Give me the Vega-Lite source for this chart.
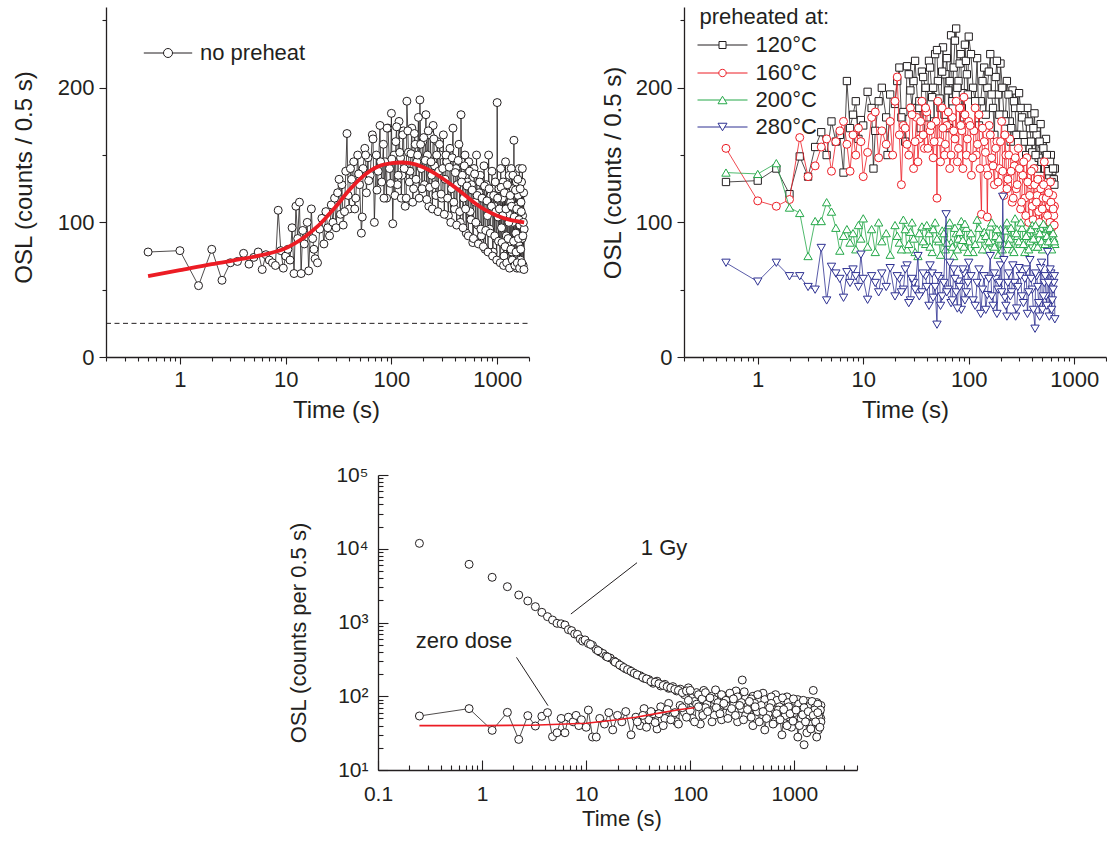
{
  "$schema": "https://vega.github.io/schema/vega-lite/v6.json",
  "padding": {"left": 12, "top": 7, "right": 0, "bottom": 5},
  "config": {
    "view": {"stroke": null},
    "font": "Liberation Sans",
    "axis": {"domainColor": "#231f20", "domainWidth": 1.3, "tickColor": "#231f20", "tickWidth": 1.1, "labelColor": "#231f20", "titleColor": "#231f20", "titleFontWeight": "normal", "grid": false, "labelFlush": false, "labelOverlap": false, "labelBound": false, "labelFont": "Liberation Sans", "titleFont": "Liberation Sans"},
    "legend": {"labelFont": "Liberation Sans", "titleFont": "Liberation Sans", "labelColor": "#231f20", "titleColor": "#231f20", "titleFontWeight": "normal", "padding": 0, "labelFontSize": 22, "symbolSize": 64, "symbolStrokeWidth": 1, "symbolFillColor": "white", "orient": "none"},
    "point": {"opacity": 1}
  },
  "datasets": {
    "A": [{"t":0.5,"y":78},{"t":1,"y":79},{"t":1.5,"y":53},{"t":2,"y":80},{"t":2.5,"y":57},{"t":3,"y":70},{"t":3.5,"y":71},{"t":4,"y":77},{"t":4.5,"y":69},{"t":5,"y":74},{"t":5.5,"y":78},{"t":6,"y":65},{"t":6.5,"y":76},{"t":7,"y":72},{"t":7.5,"y":70},{"t":8,"y":68},{"t":8.5,"y":109},{"t":9,"y":79},{"t":9.5,"y":66},{"t":10,"y":75},{"t":10.5,"y":80},{"t":11,"y":72},{"t":11.5,"y":96},{"t":12,"y":62},{"t":12.5,"y":112},{"t":13,"y":88},{"t":13.5,"y":115},{"t":14,"y":62},{"t":14.5,"y":94},{"t":15,"y":84},{"t":16,"y":100},{"t":16.5,"y":64},{"t":17.5,"y":110},{"t":18,"y":88},{"t":18.5,"y":80},{"t":19,"y":73},{"t":20,"y":70},{"t":21,"y":95},{"t":22,"y":103},{"t":23,"y":84},{"t":24,"y":108},{"t":25,"y":96},{"t":26,"y":90},{"t":27,"y":113},{"t":28,"y":100},{"t":29,"y":118},{"t":30,"y":96},{"t":31,"y":122},{"t":33,"y":106},{"t":34,"y":128},{"t":35,"y":98},{"t":37,"y":138},{"t":38,"y":166},{"t":39,"y":120},{"t":40,"y":110},{"t":42,"y":132},{"t":44,"y":145},{"t":46,"y":118},{"t":48,"y":150},{"t":50,"y":128},{"t":52,"y":92},{"t":54,"y":140},{"t":56,"y":155},{"t":58,"y":122},{"t":60,"y":148},{"t":63,"y":135},{"t":66,"y":165},{"t":69,"y":100},{"t":72,"y":150},{"t":75,"y":138},{"t":78,"y":172},{"t":81,"y":130},{"t":84,"y":158},{"t":87,"y":145},{"t":90,"y":118},{"t":93,"y":170},{"t":96,"y":140},{"t":100,"y":181},{"t":103,"y":99},{"t":106,"y":150},{"t":110,"y":160},{"t":114,"y":128},{"t":118,"y":175},{"t":122,"y":148},{"t":126,"y":135},{"t":130,"y":168},{"t":135,"y":112},{"t":140,"y":190},{"t":145,"y":152},{"t":150,"y":138},{"t":156,"y":170},{"t":162,"y":125},{"t":168,"y":158},{"t":174,"y":145},{"t":180,"y":178},{"t":186,"y":191},{"t":192,"y":140},{"t":198,"y":160},{"t":205,"y":128},{"t":212,"y":180},{"t":219,"y":150},{"t":226,"y":112},{"t":233,"y":165},{"t":240,"y":135},{"t":248,"y":172},{"t":256,"y":142},{"t":264,"y":120},{"t":272,"y":160},{"t":280,"y":138},{"t":290,"y":150},{"t":300,"y":118},{"t":310,"y":165},{"t":322,"y":132},{"t":334,"y":145},{"t":346,"y":105},{"t":358,"y":155},{"t":370,"y":125},{"t":382,"y":170},{"t":395,"y":110},{"t":408,"y":140},{"t":420,"y":128},{"t":435,"y":158},{"t":448,"y":100},{"t":455,"y":180},{"t":468,"y":135},{"t":482,"y":118},{"t":496,"y":150},{"t":510,"y":92},{"t":525,"y":130},{"t":540,"y":145},{"t":556,"y":108},{"t":572,"y":128},{"t":588,"y":85},{"t":604,"y":140},{"t":620,"y":115},{"t":638,"y":150},{"t":656,"y":98},{"t":674,"y":122},{"t":692,"y":135},{"t":710,"y":90},{"t":730,"y":118},{"t":750,"y":142},{"t":770,"y":80},{"t":790,"y":128},{"t":810,"y":105},{"t":830,"y":150},{"t":850,"y":95},{"t":872,"y":120},{"t":894,"y":138},{"t":916,"y":78},{"t":938,"y":112},{"t":960,"y":130},{"t":982,"y":88},{"t":1000,"y":189},{"t":1020,"y":104},{"t":1040,"y":125},{"t":1060,"y":72},{"t":1080,"y":140},{"t":1100,"y":96},{"t":1120,"y":118},{"t":1140,"y":130},{"t":1160,"y":75},{"t":1180,"y":110},{"t":1200,"y":145},{"t":1220,"y":90},{"t":1240,"y":122},{"t":1260,"y":68},{"t":1280,"y":106},{"t":1300,"y":135},{"t":1320,"y":84},{"t":1340,"y":115},{"t":1360,"y":140},{"t":1380,"y":78},{"t":1400,"y":100},{"t":1420,"y":125},{"t":1440,"y":161},{"t":1460,"y":70},{"t":1480,"y":112},{"t":1500,"y":92},{"t":1520,"y":130},{"t":1540,"y":66},{"t":1560,"y":108},{"t":1580,"y":120},{"t":1600,"y":85},{"t":1620,"y":140},{"t":1640,"y":98},{"t":1660,"y":72},{"t":1680,"y":115},{"t":1700,"y":130},{"t":1720,"y":88},{"t":1740,"y":105},{"t":1760,"y":68},{"t":1780,"y":122},{"t":1800,"y":95},
      {"t":32,"y":132},{"t":36,"y":108},{"t":41,"y":140},{"t":45,"y":110},{"t":49,"y":136},{"t":53,"y":104},{"t":57,"y":150},{"t":61,"y":131},{"t":67,"y":162},{"t":73,"y":124},{"t":79,"y":145},{"t":85,"y":118},{"t":91,"y":170},{"t":98,"y":129},{"t":101,"y":147},{"t":108,"y":120},{"t":112,"y":171},{"t":116,"y":135},{"t":120,"y":152},{"t":124,"y":118},{"t":128,"y":165},{"t":132,"y":140},{"t":138,"y":118},{"t":143,"y":168},{"t":148,"y":130},{"t":153,"y":151},{"t":159,"y":115},{"t":165,"y":166},{"t":171,"y":132},{"t":177,"y":150},{"t":183,"y":118},{"t":189,"y":158},{"t":195,"y":125},{"t":202,"y":163},{"t":209,"y":146},{"t":216,"y":117},{"t":223,"y":168},{"t":230,"y":126},{"t":237,"y":145},{"t":244,"y":110},{"t":252,"y":162},{"t":260,"y":128},{"t":268,"y":150},{"t":276,"y":108},{"t":285,"y":158},{"t":295,"y":121},{"t":305,"y":140},{"t":316,"y":106},{"t":328,"y":150},{"t":340,"y":118},{"t":352,"y":141},{"t":364,"y":100},{"t":376,"y":148},{"t":389,"y":115},{"t":402,"y":137},{"t":414,"y":98},{"t":428,"y":146},{"t":442,"y":108},{"t":461,"y":130},{"t":475,"y":96},{"t":489,"y":142},{"t":503,"y":110},{"t":518,"y":127},{"t":533,"y":90},{"t":548,"y":138},{"t":564,"y":102},{"t":580,"y":124},{"t":596,"y":88},{"t":612,"y":136},{"t":629,"y":100},{"t":647,"y":120},{"t":665,"y":84},{"t":683,"y":130},{"t":701,"y":95},{"t":720,"y":118},{"t":740,"y":82},{"t":760,"y":127},{"t":780,"y":94},{"t":800,"y":116},{"t":820,"y":78},{"t":840,"y":125},{"t":861,"y":92},{"t":883,"y":112},{"t":905,"y":75},{"t":927,"y":120},{"t":949,"y":90},{"t":971,"y":108},{"t":991,"y":72},{"t":1010,"y":118},{"t":1030,"y":86},{"t":1050,"y":110},{"t":1070,"y":70},{"t":1090,"y":126},{"t":1110,"y":85},{"t":1130,"y":105},{"t":1150,"y":68},{"t":1170,"y":122},{"t":1190,"y":82},{"t":1210,"y":110},{"t":1230,"y":70},{"t":1250,"y":128},{"t":1270,"y":88},{"t":1290,"y":100},{"t":1310,"y":66},{"t":1330,"y":120},{"t":1350,"y":80},{"t":1370,"y":112},{"t":1390,"y":72},{"t":1410,"y":135},{"t":1430,"y":86},{"t":1450,"y":104},{"t":1470,"y":68},{"t":1490,"y":124},{"t":1510,"y":78},{"t":1530,"y":110},{"t":1550,"y":70},{"t":1570,"y":132},{"t":1590,"y":88},{"t":1610,"y":102},{"t":1630,"y":66},{"t":1650,"y":125},{"t":1670,"y":80},{"t":1690,"y":108},{"t":1710,"y":70},{"t":1730,"y":140},{"t":1750,"y":90},{"t":1770,"y":100},{"t":1790,"y":65}],
    "Afit": [{"t":0.5,"y":60},{"t":1,"y":64.5},{"t":2,"y":69},{"t":4,"y":73},{"t":7,"y":77},{"t":9.5,"y":80},{"t":12,"y":84},{"t":15,"y":89},{"t":20,"y":97},{"t":25,"y":105},{"t":30,"y":112},{"t":40,"y":124},{"t":50,"y":132},{"t":65,"y":139},{"t":80,"y":142.5},{"t":100,"y":144},{"t":125,"y":144.5},{"t":150,"y":144},{"t":200,"y":141},{"t":250,"y":137},{"t":300,"y":133},{"t":400,"y":126},{"t":500,"y":120},{"t":600,"y":115},{"t":800,"y":108.5},{"t":1000,"y":105},{"t":1300,"y":102},{"t":1800,"y":100}],
    "Abg": [{"t":0.2,"y":25},{"t":2000,"y":25}],
    "B120": [{"t":0.5,"y":130},{"t":1,"y":131},{"t":1.5,"y":140},{"t":2,"y":121},{"t":2.5,"y":149},{"t":3,"y":134},{"t":3.5,"y":156},{"t":4,"y":167},{"t":4.5,"y":150},{"t":5,"y":175},{"t":5.5,"y":160},{"t":6,"y":165},{"t":6.5,"y":137},{"t":7,"y":205},{"t":7.5,"y":170},{"t":8,"y":180},{"t":8.5,"y":190},{"t":9,"y":162},{"t":9.5,"y":176},{"t":10,"y":172},{"t":11,"y":197},{"t":12,"y":185},{"t":12.5,"y":140},{"t":13,"y":168},{"t":14,"y":190},{"t":15,"y":200},{"t":16.5,"y":178},{"t":17,"y":150},{"t":18,"y":195},{"t":20,"y":188},{"t":22,"y":215},{"t":24,"y":182},{"t":25,"y":160},{"t":26,"y":216},{"t":28,"y":198},{"t":30,"y":205},{"t":33,"y":185},{"t":35,"y":170},{"t":36,"y":212},{"t":39,"y":200},{"t":42,"y":220},{"t":45,"y":193},{"t":47,"y":175},{"t":48,"y":225},{"t":51,"y":205},{"t":54,"y":185},{"t":57,"y":230},{"t":60,"y":210},{"t":64,"y":198},{"t":65,"y":170},{"t":68,"y":239},{"t":72,"y":215},{"t":76,"y":244},{"t":80,"y":205},{"t":84,"y":225},{"t":88,"y":196},{"t":90,"y":178},{"t":92,"y":232},{"t":96,"y":210},{"t":100,"y":238},{"t":110,"y":200},{"t":120,"y":222},{"t":125,"y":172},{"t":130,"y":190},{"t":140,"y":215},{"t":150,"y":200},{"t":160,"y":225},{"t":170,"y":185},{"t":175,"y":165},{"t":180,"y":208},{"t":190,"y":195},{"t":200,"y":218},{"t":215,"y":180},{"t":230,"y":205},{"t":245,"y":175},{"t":250,"y":160},{"t":260,"y":198},{"t":275,"y":185},{"t":290,"y":165},{"t":300,"y":196},{"t":320,"y":178},{"t":340,"y":160},{"t":350,"y":150},{"t":360,"y":185},{"t":380,"y":170},{"t":400,"y":152},{"t":420,"y":181},{"t":440,"y":165},{"t":450,"y":140},{"t":460,"y":148},{"t":480,"y":173},{"t":500,"y":158},{"t":520,"y":140},{"t":540,"y":162},{"t":560,"y":145},{"t":580,"y":135},{"t":600,"y":150},{"t":620,"y":138},{"t":640,"y":132},{"t":655,"y":140},
      {"t":21,"y":205},{"t":23,"y":178},{"t":27,"y":210},{"t":29,"y":185},{"t":31,"y":220},{"t":34,"y":190},{"t":37,"y":208},{"t":40,"y":178},{"t":43,"y":215},{"t":46,"y":200},{"t":50,"y":228},{"t":53,"y":192},{"t":56,"y":212},{"t":59,"y":180},{"t":62,"y":222},{"t":66,"y":205},{"t":70,"y":190},{"t":74,"y":235},{"t":78,"y":200},{"t":82,"y":218},{"t":86,"y":185},{"t":94,"y":220},{"t":98,"y":195},{"t":105,"y":225},{"t":115,"y":190},{"t":135,"y":205},{"t":145,"y":180},{"t":155,"y":212},{"t":165,"y":195},{"t":185,"y":220},{"t":195,"y":180},{"t":208,"y":200},{"t":222,"y":175},{"t":238,"y":195},{"t":253,"y":170},{"t":268,"y":190},{"t":283,"y":165},{"t":310,"y":185},{"t":330,"y":165},{"t":370,"y":175},{"t":390,"y":160},{"t":410,"y":170},{"t":430,"y":150},{"t":470,"y":160},{"t":490,"y":145},{"t":510,"y":155},{"t":530,"y":140},{"t":550,"y":150},{"t":570,"y":138},{"t":590,"y":145},{"t":610,"y":130},{"t":630,"y":140},{"t":648,"y":128}],
    "B160": [{"t":0.5,"y":155},{"t":1,"y":116},{"t":1.5,"y":112},{"t":2,"y":117},{"t":2.5,"y":163},{"t":3,"y":134},{"t":3.5,"y":142},{"t":4,"y":156},{"t":4.5,"y":162},{"t":5,"y":138},{"t":5.5,"y":160},{"t":6,"y":168},{"t":6.5,"y":175},{"t":7,"y":158},{"t":7.5,"y":138},{"t":8,"y":165},{"t":8.5,"y":150},{"t":9,"y":170},{"t":9.5,"y":160},{"t":10,"y":134},{"t":11,"y":152},{"t":12,"y":178},{"t":13,"y":182},{"t":14,"y":148},{"t":15,"y":168},{"t":16.5,"y":158},{"t":18,"y":175},{"t":19,"y":150},{"t":20,"y":190},{"t":21,"y":208},{"t":22,"y":165},{"t":23,"y":128},{"t":24,"y":172},{"t":26,"y":158},{"t":28,"y":185},{"t":30,"y":140},{"t":32,"y":178},{"t":34,"y":162},{"t":36,"y":190},{"t":38,"y":155},{"t":40,"y":182},{"t":43,"y":168},{"t":46,"y":148},{"t":49,"y":175},{"t":50,"y":118},{"t":53,"y":160},{"t":56,"y":185},{"t":59,"y":150},{"t":62,"y":172},{"t":66,"y":140},{"t":70,"y":178},{"t":74,"y":162},{"t":78,"y":145},{"t":82,"y":185},{"t":86,"y":168},{"t":90,"y":193},{"t":95,"y":150},{"t":100,"y":175},{"t":106,"y":135},{"t":112,"y":168},{"t":118,"y":150},{"t":125,"y":180},{"t":132,"y":106},{"t":140,"y":160},{"t":148,"y":140},{"t":150,"y":104},{"t":156,"y":172},{"t":165,"y":148},{"t":175,"y":128},{"t":185,"y":160},{"t":195,"y":140},{"t":205,"y":175},{"t":215,"y":120},{"t":225,"y":150},{"t":235,"y":132},{"t":245,"y":162},{"t":258,"y":115},{"t":270,"y":142},{"t":282,"y":125},{"t":295,"y":155},{"t":310,"y":110},{"t":325,"y":135},{"t":340,"y":118},{"t":355,"y":148},{"t":370,"y":100},{"t":385,"y":128},{"t":400,"y":112},{"t":415,"y":140},{"t":430,"y":95},{"t":445,"y":120},{"t":460,"y":108},{"t":475,"y":132},{"t":490,"y":98},{"t":505,"y":118},{"t":520,"y":145},{"t":535,"y":102},{"t":550,"y":125},{"t":565,"y":92},{"t":580,"y":112},{"t":595,"y":130},{"t":610,"y":96},{"t":625,"y":120},{"t":640,"y":105},{"t":650,"y":112},
      {"t":25,"y":170},{"t":27,"y":150},{"t":29,"y":180},{"t":31,"y":160},{"t":33,"y":145},{"t":35,"y":175},{"t":37,"y":165},{"t":39,"y":185},{"t":41,"y":155},{"t":44,"y":172},{"t":47,"y":160},{"t":51,"y":190},{"t":54,"y":145},{"t":57,"y":170},{"t":60,"y":158},{"t":64,"y":182},{"t":68,"y":150},{"t":72,"y":168},{"t":76,"y":190},{"t":80,"y":155},{"t":84,"y":172},{"t":88,"y":140},{"t":92,"y":180},{"t":97,"y":162},{"t":103,"y":172},{"t":109,"y":148},{"t":115,"y":185},{"t":121,"y":158},{"t":128,"y":140},{"t":135,"y":170},{"t":144,"y":152},{"t":152,"y":135},{"t":160,"y":165},{"t":170,"y":142},{"t":180,"y":155},{"t":190,"y":130},{"t":200,"y":160},{"t":210,"y":138},{"t":220,"y":165},{"t":230,"y":125},{"t":240,"y":150},{"t":252,"y":138},{"t":264,"y":118},{"t":276,"y":148},{"t":288,"y":128},{"t":302,"y":140},{"t":317,"y":115},{"t":332,"y":145},{"t":347,"y":105},{"t":362,"y":130},{"t":378,"y":120},{"t":392,"y":138},{"t":408,"y":102},{"t":422,"y":128},{"t":438,"y":115},{"t":452,"y":132},{"t":468,"y":100},{"t":482,"y":125},{"t":498,"y":110},{"t":512,"y":128},{"t":528,"y":95},{"t":542,"y":118},{"t":558,"y":105},{"t":572,"y":122},{"t":588,"y":100},{"t":602,"y":115},{"t":618,"y":90},{"t":632,"y":110},{"t":646,"y":98}],
    "B200": [{"t":0.5,"y":137},{"t":1,"y":136},{"t":1.5,"y":144},{"t":2,"y":111},{"t":2.5,"y":107},{"t":3,"y":75},{"t":3.5,"y":101},{"t":4,"y":101},{"t":4.5,"y":115},{"t":5,"y":108},{"t":5.5,"y":96},{"t":6,"y":79},{"t":6.5,"y":90},{"t":7,"y":95},{"t":7.5,"y":85},{"t":8,"y":92},{"t":8.5,"y":80},{"t":9,"y":98},{"t":9.5,"y":88},{"t":10,"y":103},{"t":11,"y":82},{"t":12,"y":95},{"t":13,"y":78},{"t":14,"y":100},{"t":15,"y":86},{"t":16.5,"y":92},{"t":18,"y":76},{"t":20,"y":98},{"t":22,"y":85},{"t":24,"y":102},{"t":26,"y":80},{"t":28,"y":93},{"t":30,"y":88},{"t":33,"y":75},{"t":36,"y":97},{"t":39,"y":84},{"t":42,"y":92},{"t":45,"y":78},{"t":48,"y":100},{"t":52,"y":86},{"t":56,"y":94},{"t":60,"y":80},{"t":64,"y":98},{"t":68,"y":85},{"t":72,"y":75},{"t":76,"y":92},{"t":80,"y":88},{"t":85,"y":101},{"t":90,"y":82},{"t":95,"y":96},{"t":100,"y":86},{"t":110,"y":78},{"t":120,"y":102},{"t":130,"y":88},{"t":140,"y":93},{"t":150,"y":80},{"t":160,"y":97},{"t":170,"y":85},{"t":180,"y":90},{"t":190,"y":76},{"t":200,"y":95},{"t":215,"y":84},{"t":230,"y":100},{"t":245,"y":88},{"t":260,"y":80},{"t":275,"y":103},{"t":290,"y":90},{"t":305,"y":84},{"t":320,"y":96},{"t":340,"y":78},{"t":360,"y":92},{"t":380,"y":86},{"t":400,"y":98},{"t":420,"y":82},{"t":440,"y":94},{"t":460,"y":88},{"t":480,"y":96},{"t":500,"y":80},{"t":520,"y":92},{"t":540,"y":87},{"t":560,"y":95},{"t":580,"y":82},{"t":600,"y":90},{"t":620,"y":85},{"t":640,"y":88},{"t":655,"y":84},
      {"t":21,"y":90},{"t":23,"y":80},{"t":25,"y":95},{"t":27,"y":84},{"t":29,"y":100},{"t":31,"y":78},{"t":34,"y":92},{"t":37,"y":86},{"t":40,"y":98},{"t":43,"y":82},{"t":46,"y":95},{"t":50,"y":88},{"t":54,"y":76},{"t":58,"y":92},{"t":62,"y":85},{"t":66,"y":100},{"t":70,"y":82},{"t":74,"y":96},{"t":78,"y":80},{"t":82,"y":93},{"t":88,"y":87},{"t":92,"y":99},{"t":98,"y":78},{"t":105,"y":92},{"t":115,"y":84},{"t":125,"y":96},{"t":135,"y":80},{"t":145,"y":90},{"t":155,"y":86},{"t":165,"y":100},{"t":175,"y":82},{"t":185,"y":95},{"t":195,"y":88},{"t":208,"y":80},{"t":222,"y":94},{"t":238,"y":84},{"t":252,"y":96},{"t":268,"y":78},{"t":282,"y":92},{"t":298,"y":86},{"t":312,"y":100},{"t":330,"y":84},{"t":350,"y":90},{"t":370,"y":80},{"t":390,"y":95},{"t":410,"y":88},{"t":430,"y":98},{"t":450,"y":82},{"t":470,"y":92},{"t":490,"y":86},{"t":510,"y":99},{"t":530,"y":84},{"t":550,"y":90},{"t":570,"y":86},{"t":590,"y":96},{"t":610,"y":80},{"t":630,"y":92},{"t":648,"y":86}],
    "B280": [{"t":0.5,"y":70},{"t":1,"y":56},{"t":1.5,"y":70},{"t":2,"y":60},{"t":2.5,"y":60},{"t":3,"y":52},{"t":3.5,"y":50},{"t":4,"y":81},{"t":4.5,"y":42},{"t":5,"y":67},{"t":5.5,"y":62},{"t":6,"y":58},{"t":6.5,"y":44},{"t":7,"y":63},{"t":7.5,"y":55},{"t":8,"y":65},{"t":8.5,"y":60},{"t":9,"y":52},{"t":9.5,"y":76},{"t":10,"y":58},{"t":11,"y":42.5},{"t":12,"y":60},{"t":13,"y":55},{"t":14,"y":48},{"t":15,"y":62},{"t":16.5,"y":52},{"t":18,"y":66},{"t":20,"y":45},{"t":22,"y":58},{"t":24,"y":50},{"t":26,"y":68},{"t":28,"y":42},{"t":30,"y":55},{"t":33,"y":75},{"t":36,"y":48},{"t":39,"y":60},{"t":42,"y":38},{"t":45,"y":62},{"t":48,"y":52},{"t":50,"y":24},{"t":53,"y":58},{"t":56,"y":45},{"t":61,"y":106},{"t":64,"y":50},{"t":68,"y":40},{"t":72,"y":65},{"t":76,"y":48},{"t":80,"y":56},{"t":85,"y":35},{"t":90,"y":62},{"t":95,"y":48},{"t":100,"y":70},{"t":110,"y":42},{"t":120,"y":55},{"t":130,"y":32},{"t":140,"y":60},{"t":150,"y":46},{"t":160,"y":75},{"t":170,"y":38},{"t":180,"y":58},{"t":190,"y":50},{"t":200,"y":68},{"t":210,"y":119},{"t":220,"y":44},{"t":230,"y":30},{"t":240,"y":62},{"t":255,"y":48},{"t":270,"y":55},{"t":285,"y":36},{"t":300,"y":66},{"t":320,"y":45},{"t":340,"y":58},{"t":360,"y":32},{"t":380,"y":72},{"t":400,"y":50},{"t":425,"y":21},{"t":440,"y":60},{"t":460,"y":40},{"t":480,"y":66},{"t":500,"y":35},{"t":520,"y":55},{"t":540,"y":45},{"t":560,"y":78},{"t":580,"y":30},{"t":600,"y":62},{"t":620,"y":42},{"t":640,"y":55},{"t":655,"y":28},
      {"t":21,"y":60},{"t":23,"y":48},{"t":25,"y":65},{"t":27,"y":40},{"t":29,"y":58},{"t":31,"y":50},{"t":34,"y":45},{"t":37,"y":62},{"t":40,"y":52},{"t":43,"y":68},{"t":46,"y":44},{"t":51,"y":60},{"t":54,"y":38},{"t":58,"y":55},{"t":62,"y":48},{"t":66,"y":70},{"t":70,"y":42},{"t":74,"y":58},{"t":78,"y":36},{"t":82,"y":52},{"t":88,"y":65},{"t":92,"y":42},{"t":98,"y":55},{"t":105,"y":60},{"t":115,"y":38},{"t":125,"y":65},{"t":135,"y":50},{"t":145,"y":35},{"t":155,"y":58},{"t":165,"y":45},{"t":175,"y":62},{"t":185,"y":32},{"t":195,"y":55},{"t":205,"y":48},{"t":215,"y":72},{"t":225,"y":38},{"t":235,"y":55},{"t":248,"y":45},{"t":262,"y":68},{"t":278,"y":30},{"t":292,"y":52},{"t":308,"y":60},{"t":330,"y":40},{"t":350,"y":65},{"t":370,"y":48},{"t":390,"y":58},{"t":410,"y":35},{"t":430,"y":62},{"t":450,"y":52},{"t":470,"y":30},{"t":490,"y":70},{"t":510,"y":45},{"t":530,"y":60},{"t":550,"y":38},{"t":570,"y":55},{"t":590,"y":65},{"t":610,"y":35},{"t":630,"y":50},{"t":648,"y":60}],
    "C1": [{"t":0.25,"y":11840},{"t":0.75,"y":6150},{"t":1.25,"y":4100},{"t":1.75,"y":3060},{"t":2.25,"y":2360},{"t":2.75,"y":1960},{"t":3.25,"y":1640},{"t":3.75,"y":1375},{"t":4.25,"y":1200},{"t":4.75,"y":1080},{"t":5.25,"y":975},{"t":5.75,"y":960},{"t":6.25,"y":925},{"t":6.75,"y":800},{"t":7.25,"y":775},{"t":7.75,"y":700},{"t":8.25,"y":690},{"t":8.75,"y":600},{"t":9.25,"y":560},{"t":9.75,"y":580},{"t":10.5,"y":520},{"t":11.5,"y":490},{"t":12.5,"y":430},{"t":13.5,"y":400},{"t":14.5,"y":380},{"t":15.5,"y":350},{"t":17,"y":330},{"t":18.5,"y":300},{"t":20,"y":280},{"t":22,"y":255},{"t":24,"y":235},{"t":26,"y":225},{"t":28,"y":210},{"t":30,"y":200},{"t":33,"y":190},{"t":36,"y":175},{"t":40,"y":168},{"t":44,"y":150},{"t":48,"y":160},{"t":52,"y":138},{"t":57,"y":145},{"t":62,"y":128},{"t":68,"y":135},{"t":74,"y":118},{"t":80,"y":125},{"t":88,"y":105},{"t":96,"y":130},{"t":105,"y":95},{"t":115,"y":112},{"t":125,"y":88},{"t":135,"y":120},{"t":150,"y":98},{"t":165,"y":80},{"t":180,"y":110},{"t":195,"y":92},{"t":210,"y":75},{"t":230,"y":102},{"t":250,"y":85},{"t":275,"y":118},{"t":300,"y":78},{"t":316,"y":166},{"t":340,"y":95},{"t":370,"y":70},{"t":400,"y":100},{"t":430,"y":65},{"t":460,"y":88},{"t":500,"y":110},{"t":540,"y":62},{"t":580,"y":92},{"t":620,"y":75},{"t":660,"y":105},{"t":700,"y":58},{"t":750,"y":85},{"t":800,"y":68},{"t":850,"y":98},{"t":900,"y":52},{"t":960,"y":80},{"t":1020,"y":62},{"t":1080,"y":90},{"t":1140,"y":48},{"t":1200,"y":72},{"t":1240,"y":22},{"t":1280,"y":58},{"t":1340,"y":85},{"t":1400,"y":45},{"t":1460,"y":70},{"t":1520,"y":120},{"t":1560,"y":40},{"t":1600,"y":65},{"t":1650,"y":82},{"t":1700,"y":35},{"t":1750,"y":60},{"t":1800,"y":75},
      {"t":11,"y":505},{"t":13,"y":415},{"t":16,"y":340},{"t":19,"y":290},{"t":21,"y":265},{"t":23,"y":245},{"t":25,"y":230},{"t":27,"y":218},{"t":29,"y":205},{"t":31,"y":195},{"t":35,"y":180},{"t":38,"y":172},{"t":42,"y":158},{"t":46,"y":155},{"t":50,"y":148},{"t":55,"y":140},{"t":60,"y":135},{"t":65,"y":130},{"t":71,"y":124},{"t":77,"y":120},{"t":84,"y":112},{"t":92,"y":118},
      {"t":100,"y":120},{"t":110,"y":85},{"t":120,"y":105},{"t":130,"y":92},{"t":140,"y":112},{"t":145,"y":78},{"t":160,"y":100},{"t":170,"y":90},{"t":175,"y":122},{"t":190,"y":80},{"t":200,"y":105},{"t":220,"y":88},{"t":240,"y":110},{"t":260,"y":75},{"t":285,"y":98},{"t":310,"y":82},{"t":330,"y":115},{"t":355,"y":72},{"t":385,"y":92},{"t":415,"y":80},{"t":445,"y":105},{"t":475,"y":68},{"t":520,"y":90},{"t":560,"y":75},{"t":600,"y":98},{"t":640,"y":65},{"t":680,"y":88},{"t":720,"y":72},{"t":770,"y":95},{"t":820,"y":60},{"t":870,"y":82},{"t":920,"y":70},{"t":980,"y":92},{"t":1050,"y":55},{"t":1100,"y":78},{"t":1170,"y":65},{"t":1220,"y":88},{"t":1300,"y":50},{"t":1360,"y":72},{"t":1420,"y":60},{"t":1480,"y":85},{"t":1540,"y":48},{"t":1580,"y":70},{"t":1620,"y":55},{"t":1680,"y":78},{"t":1720,"y":45},{"t":1780,"y":65},{"t":1795,"y":50}],
    "C0": [{"t":0.25,"y":54},{"t":0.75,"y":68},{"t":1.25,"y":34.5},{"t":1.75,"y":60.5},{"t":2.25,"y":26},{"t":2.75,"y":54.6},{"t":3.25,"y":39.5},{"t":3.75,"y":53.5},{"t":4.25,"y":60},{"t":4.75,"y":28.3},{"t":5.25,"y":32},{"t":5.75,"y":50},{"t":6.25,"y":32},{"t":6.75,"y":52},{"t":7.5,"y":45},{"t":8,"y":55},{"t":8.5,"y":40},{"t":9,"y":48},{"t":10,"y":38},{"t":10.5,"y":65},{"t":11.5,"y":28},{"t":12.5,"y":28},{"t":13.5,"y":50},{"t":15,"y":42},{"t":16.5,"y":60},{"t":18,"y":35},{"t":20,"y":55},{"t":22,"y":45},{"t":24,"y":62},{"t":27,"y":30},{"t":30,"y":52},{"t":33,"y":40},{"t":36,"y":68},{"t":40,"y":48},{"t":44,"y":58},{"t":48,"y":36},{"t":52,"y":72},{"t":57,"y":50},{"t":62,"y":80},{"t":68,"y":55},{"t":74,"y":45},{"t":80,"y":75},{"t":88,"y":60},{"t":96,"y":88},{"t":105,"y":50},{"t":115,"y":78},{"t":125,"y":42},{"t":140,"y":70},{"t":155,"y":95},{"t":170,"y":55},{"t":185,"y":82},{"t":200,"y":48},{"t":220,"y":75},{"t":240,"y":60},{"t":260,"y":92},{"t":285,"y":45},{"t":310,"y":68},{"t":340,"y":55},{"t":370,"y":85},{"t":400,"y":40},{"t":440,"y":62},{"t":480,"y":75},{"t":520,"y":35},{"t":560,"y":58},{"t":600,"y":80},{"t":650,"y":45},{"t":700,"y":65},{"t":760,"y":30},{"t":820,"y":55},{"t":880,"y":72},{"t":940,"y":38},{"t":1000,"y":60},{"t":1080,"y":28},{"t":1160,"y":50},{"t":1240,"y":70},{"t":1320,"y":32},{"t":1400,"y":55},{"t":1480,"y":42},{"t":1560,"y":65},{"t":1640,"y":28},{"t":1720,"y":52},{"t":1800,"y":45},
      {"t":31,"y":45},{"t":35,"y":55},{"t":38,"y":38},{"t":42,"y":62},{"t":46,"y":44},{"t":50,"y":58},{"t":55,"y":40},{"t":60,"y":66},{"t":65,"y":48},{"t":71,"y":60},{"t":77,"y":42},{"t":84,"y":70},{"t":92,"y":52},{"t":100,"y":64},{"t":110,"y":45},{"t":120,"y":72},{"t":132,"y":55},{"t":147,"y":62},{"t":162,"y":45},{"t":178,"y":70},{"t":193,"y":58},{"t":210,"y":80},{"t":230,"y":50},{"t":250,"y":68},{"t":272,"y":55},{"t":298,"y":75},{"t":325,"y":48},{"t":355,"y":66},{"t":385,"y":52},{"t":420,"y":72},{"t":460,"y":45},{"t":500,"y":62},{"t":540,"y":50},{"t":580,"y":70},{"t":625,"y":42},{"t":675,"y":58},{"t":730,"y":48},{"t":790,"y":66},{"t":850,"y":40},{"t":910,"y":58},{"t":970,"y":46},{"t":1040,"y":65},{"t":1120,"y":40},{"t":1200,"y":56},{"t":1280,"y":45},{"t":1360,"y":62},{"t":1440,"y":36},{"t":1520,"y":55},{"t":1600,"y":45},{"t":1680,"y":60},{"t":1760,"y":38}],
    "Cfit": [{"t":0.25,"y":40},{"t":1,"y":40},{"t":3,"y":40.5},{"t":10,"y":43},{"t":20,"y":48},{"t":30,"y":52},{"t":50,"y":59},{"t":80,"y":66},{"t":110,"y":70}],
    "Cnote": [{"t":30.8,"y":6470,"t2":7.13,"y2":1303},{"t":2.14,"y":337,"t2":4.3,"y2":74.5}],
    "Ctext": [{"t":56,"y":10140,"label":"1 Gy"},{"t":0.671,"y":561,"label":"zero dose"}]
  },
  "spacing": 42,
  "resolve": {"scale": {"stroke": "independent"}, "legend": {"stroke": "independent"}},
  "vconcat": [
    {
      "spacing": 155,
      "bounds": "flush",
      "resolve": {"scale": {"stroke": "independent"}, "legend": {"stroke": "independent"}},
      "hconcat": [
        {
          "width": 423, "height": 350,
          "encoding": {
            "x": {"field": "t", "type": "quantitative", "scale": {"type": "log", "domain": [0.2, 2000], "nice": false},
              "axis": {"values": [0.2,0.3,0.4,0.5,0.6,0.7,0.8,0.9,1,2,3,4,5,6,7,8,9,10,20,30,40,50,60,70,80,90,100,200,300,400,500,600,700,800,900,1000,2000],
                "labelExpr": "indexof([1,10,100,1000], datum.value) >= 0 ? format(datum.value, 'd') : ''",
                "tickSize": {"condition": {"test": "indexof([1,10,100,1000], datum.value) >= 0", "value": 7}, "value": 4},
                "labelPadding": 5, "labelFontSize": 22, "title": "Time (s)", "titleFontSize": 24, "titleX": 230, "titleY": 60, "titleBaseline": "alphabetic"}},
            "y": {"field": "y", "type": "quantitative", "scale": {"domain": [0, 260], "nice": false, "zero": false},
              "axis": {"values": [0,50,100,150,200,250],
                "labelExpr": "datum.value % 100 == 0 ? datum.label : ''",
                "tickSize": {"condition": {"test": "datum.value % 100 == 0", "value": 7}, "value": 4},
                "labelPadding": 5, "labelFontSize": 22, "title": "OSL (counts / 0.5 s)", "titleFontSize": 24, "titleX": -75, "titleY": 170, "titleBaseline": "alphabetic"}}
          },
          "layer": [
            {"data": {"name": "Abg"}, "mark": {"type": "line", "color": "#231f20", "strokeWidth": 1, "strokeDash": [5, 3.5]}},
            {"data": {"name": "A"}, "mark": {"type": "line", "color": "#231f20", "strokeWidth": 0.8}},
            {"data": {"name": "A"}, "mark": {"type": "point", "shape": "circle", "size": 64, "filled": true, "fill": "white", "strokeWidth": 1},
              "encoding": {"stroke": {"datum": "no preheat", "type": "nominal", "scale": {"domain": ["no preheat"], "range": ["#231f20"]},
                "legend": {"legendX": 38, "legendY": 35, "title": null,
                  "symbolType": "M-6.05,0L-1.125,0M1.125,0L6.05,0M-1.125,0A1.125,1.125,0,1,1,1.125,0A1.125,1.125,0,1,1,-1.125,0Z",
                  "symbolOffset": 13, "labelOffset": 21}}}},
            {"data": {"name": "Afit"}, "mark": {"type": "line", "color": "#ec1c24", "strokeWidth": 3.8, "interpolate": "monotone"}}
          ]
        },
        {
          "width": 422, "height": 350,
          "resolve": {"scale": {"stroke": "independent"}, "legend": {"stroke": "independent"}},
          "encoding": {
            "x": {"field": "t", "type": "quantitative", "scale": {"type": "log", "domain": [0.2, 2000], "nice": false},
              "axis": {"values": [0.2,0.3,0.4,0.5,0.6,0.7,0.8,0.9,1,2,3,4,5,6,7,8,9,10,20,30,40,50,60,70,80,90,100,200,300,400,500,600,700,800,900,1000,2000],
                "labelExpr": "indexof([1,10,100,1000], datum.value) >= 0 ? format(datum.value, 'd') : ''",
                "tickSize": {"condition": {"test": "indexof([1,10,100,1000], datum.value) >= 0", "value": 7}, "value": 4},
                "labelPadding": 5, "labelFontSize": 22, "title": "Time (s)", "titleFontSize": 24, "titleX": 221, "titleY": 60, "titleBaseline": "alphabetic"}},
            "y": {"field": "y", "type": "quantitative", "scale": {"domain": [0, 260], "nice": false, "zero": false},
              "axis": {"values": [0,50,100,150,200,250],
                "labelExpr": "datum.value % 100 == 0 ? datum.label : ''",
                "tickSize": {"condition": {"test": "datum.value % 100 == 0", "value": 7}, "value": 4},
                "labelPadding": 5, "labelFontSize": 22, "title": "OSL (counts / 0.5 s)", "titleFontSize": 24, "titleX": -64, "titleY": 165.5, "titleBaseline": "alphabetic"}}
          },
          "layer": [
            {"data": {"name": "B120"}, "mark": {"type": "line", "color": "#231f20", "strokeWidth": 0.8}},
            {"data": {"name": "B120"}, "mark": {"type": "point", "shape": "square", "size": 53, "filled": true, "fill": "white", "strokeWidth": 1},
              "encoding": {"stroke": {"datum": "120°C", "type": "nominal", "scale": {"domain": ["120°C"], "range": ["#231f20"]},
                "legend": {"legendX": 15.5, "legendY": 0, "title": "preheated at:", "titleFontSize": 22, "titlePadding": 5,
                  "symbolType": "M-6.25,0L-0.875,0M0.875,0L6.25,0M-0.875,-0.875L0.875,-0.875L0.875,0.875L-0.875,0.875Z",
                  "symbolOffset": 12, "labelOffset": 22}}}},
            {"data": {"name": "B160"}, "mark": {"type": "line", "color": "#ec1c24", "strokeWidth": 0.8}},
            {"data": {"name": "B160"}, "mark": {"type": "point", "shape": "circle", "size": 64, "filled": true, "fill": "white", "strokeWidth": 1},
              "encoding": {"stroke": {"datum": "160°C", "type": "nominal", "scale": {"domain": ["160°C"], "range": ["#ec1c24"]},
                "legend": {"legendX": 15.5, "legendY": 55, "title": null,
                  "symbolType": "M-6.25,0L-0.92,0M0.92,0L6.25,0M-0.92,0A0.92,0.92,0,1,1,0.92,0A0.92,0.92,0,1,1,-0.92,0Z",
                  "symbolOffset": 12, "labelOffset": 22}}}},
            {"data": {"name": "B200"}, "mark": {"type": "line", "color": "#25a849", "strokeWidth": 0.8}},
            {"data": {"name": "B200"}, "mark": {"type": "point", "shape": "triangle-up", "size": 70, "filled": true, "fill": "white", "strokeWidth": 1},
              "encoding": {"stroke": {"datum": "200°C", "type": "nominal", "scale": {"domain": ["200°C"], "range": ["#25a849"]},
                "legend": {"legendX": 15.5, "legendY": 82, "title": null,
                  "symbolType": "M-6.25,0L-0.56,0M0.56,0L6.25,0M0,-0.94L1.125,0.94L-1.125,0.94Z",
                  "symbolOffset": 12, "labelOffset": 22}}}},
            {"data": {"name": "B280"}, "mark": {"type": "line", "color": "#2e3192", "strokeWidth": 0.8}},
            {"data": {"name": "B280"}, "mark": {"type": "point", "shape": "triangle-down", "size": 70, "filled": true, "fill": "white", "strokeWidth": 1},
              "encoding": {"stroke": {"datum": "280°C", "type": "nominal", "scale": {"domain": ["280°C"], "range": ["#2e3192"]},
                "legend": {"legendX": 15.5, "legendY": 109, "title": null,
                  "symbolType": "M-6.25,0L-0.56,0M0.56,0L6.25,0M0,0.94L1.125,-0.94L-1.125,-0.94Z",
                  "symbolOffset": 12, "labelOffset": 22}}}}
          ]
        }
      ]
    },
    {
      "spacing": 10,
      "bounds": "flush",
      "hconcat": [
        {"width": 262, "height": 295, "data": {"values": []}, "mark": {"type": "point", "opacity": 0}, "encoding": {}},
        {
          "width": 479, "height": 295,
          "encoding": {
            "x": {"field": "t", "type": "quantitative", "scale": {"type": "log", "domain": [0.1, 4000], "nice": false},
              "axis": {"values": [0.1,0.2,0.3,0.4,0.5,0.6,0.7,0.8,0.9,1,2,3,4,5,6,7,8,9,10,20,30,40,50,60,70,80,90,100,200,300,400,500,600,700,800,900,1000,2000,3000,4000],
                "labelExpr": "indexof([0.1,1,10,100,1000], datum.value) >= 0 ? (datum.value < 1 ? '0.1' : format(datum.value, 'd')) : ''",
                "tickSize": {"condition": {"test": "indexof([0.1,1,10,100,1000], datum.value) >= 0", "value": -10}, "value": -5},
                "labelPadding": 23.5, "labelFontSize": 21, "title": "Time (s)", "titleFontSize": 22, "titleX": 243.5, "titleY": 55, "titleBaseline": "alphabetic"}},
            "y": {"field": "y", "type": "quantitative", "scale": {"type": "log", "domain": [10, 100000], "nice": false},
              "axis": {"values": [10,20,30,40,50,60,70,80,90,100,200,300,400,500,600,700,800,900,1000,2000,3000,4000,5000,6000,7000,8000,9000,10000,20000,30000,40000,50000,60000,70000,80000,90000,100000],
                "labelExpr": "datum.value == 10 ? '10¹' : datum.value == 100 ? '10²' : datum.value == 1000 ? '10³' : datum.value == 10000 ? '10⁴' : datum.value == 100000 ? '10⁵' : ''",
                "tickSize": {"condition": {"test": "indexof([10,100,1000,10000,100000], datum.value) >= 0", "value": -10}, "value": -5},
                "labelPadding": 20, "labelFontSize": 21, "title": "OSL (counts per 0.5 s)", "titleFontSize": 22, "titleX": -72.6, "titleY": 157.5, "titleBaseline": "alphabetic"}}
          },
          "layer": [
            {"data": {"name": "C0"}, "mark": {"type": "line", "color": "#231f20", "strokeWidth": 0.8}},
            {"data": {"name": "C1"}, "mark": {"type": "point", "shape": "circle", "size": 64, "filled": true, "fill": "white", "stroke": "#231f20", "strokeWidth": 1}},
            {"data": {"name": "C0"}, "mark": {"type": "point", "shape": "circle", "size": 64, "filled": true, "fill": "white", "stroke": "#231f20", "strokeWidth": 1}},
            {"data": {"name": "Cfit"}, "mark": {"type": "line", "color": "#ec1c24", "strokeWidth": 1.6}},
            {"data": {"name": "Cnote"}, "mark": {"type": "rule", "color": "#231f20", "strokeWidth": 1}, "encoding": {"x2": {"field": "t2"}, "y2": {"field": "y2"}}},
            {"data": {"name": "Ctext"}, "mark": {"type": "text", "fontSize": 22, "color": "#231f20", "align": "center", "baseline": "middle", "font": "Liberation Sans"}, "encoding": {"text": {"field": "label"}}}
          ]
        }
      ]
    }
  ]
}
